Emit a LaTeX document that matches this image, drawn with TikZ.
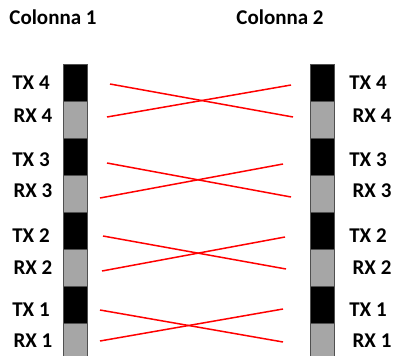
\documentclass[tikz,border=0pt]{standalone}
\usepackage{fontspec}
\setmainfont{Carlito}
\usepackage{tikz}
\usetikzlibrary{positioning}
\definecolor{portgray}{RGB}{166,166,166}
\definecolor{edgegray}{RGB}{80,80,80}
\definecolor{crossred}{RGB}{255,0,0}

\begin{document}
\begin{tikzpicture}[
    x=1pt, y=-1pt,
    lbl/.style={font=\fontsize{21}{25}\selectfont\bfseries, inner sep=0pt},
    txseg/.style={fill=black, draw=edgegray, line width=0.8pt},
    rxseg/.style={fill=portgray, draw=edgegray, line width=0.8pt},
    cross/.style={crossred, line width=1.5pt}
]
    \useasboundingbox (0,0) rectangle (394,356);
    \clip (0,0) rectangle (394,356);

    % Column headers
    \node[lbl] (col1) at (53,17) {Colonna 1};
    \node[lbl] (col2) at (280,17) {Colonna 2};

    % Port strips (black = TX, gray = RX)
    \foreach \i in {0,1,2,3} {
        \pgfmathsetmacro{\ytx}{64+74*\i}
        \pgfmathsetmacro{\yrx}{101+74*\i}
        \draw[txseg] (63,\ytx) rectangle (87,\yrx);
        \draw[rxseg] (63,\yrx) rectangle (87,\yrx+37);
        \draw[txseg] (310,\ytx) rectangle (334,\yrx);
        \draw[rxseg] (310,\yrx) rectangle (334,\yrx+37);
    }

    % Port labels
    \foreach \n/\ty/\ry in {4/83/116, 3/160/191, 2/236/268, 1/310/341} {
        \node[lbl] (txL\n) at (31,\ty) {TX \n};
        \node[lbl] (rxL\n) at (33,\ry) {RX \n};
        \node[lbl] (txR\n) at (368,\ty) {TX \n};
        \node[lbl] (rxR\n) at (372,\ry) {RX \n};
    }

    % Crossed links TX <-> RX
    \foreach \n/\ax/\ay/\bx/\by/\cx/\cy/\dx/\dy in {
        4/110/84/293/117/107/117/291/85,
        3/107/163/291/197/100/198/283/164,
        2/103/236/286/269/102/271/285/237,
        1/100/310/283/342/100/341/283/309} {
        \coordinate (a\n) at (\ax,\ay);
        \coordinate (b\n) at (\bx,\by);
        \coordinate (c\n) at (\cx,\cy);
        \coordinate (d\n) at (\dx,\dy);
        \draw[cross] (a\n) -- (b\n);
        \draw[cross] (c\n) -- (d\n);
    }

\end{tikzpicture}
\end{document}
